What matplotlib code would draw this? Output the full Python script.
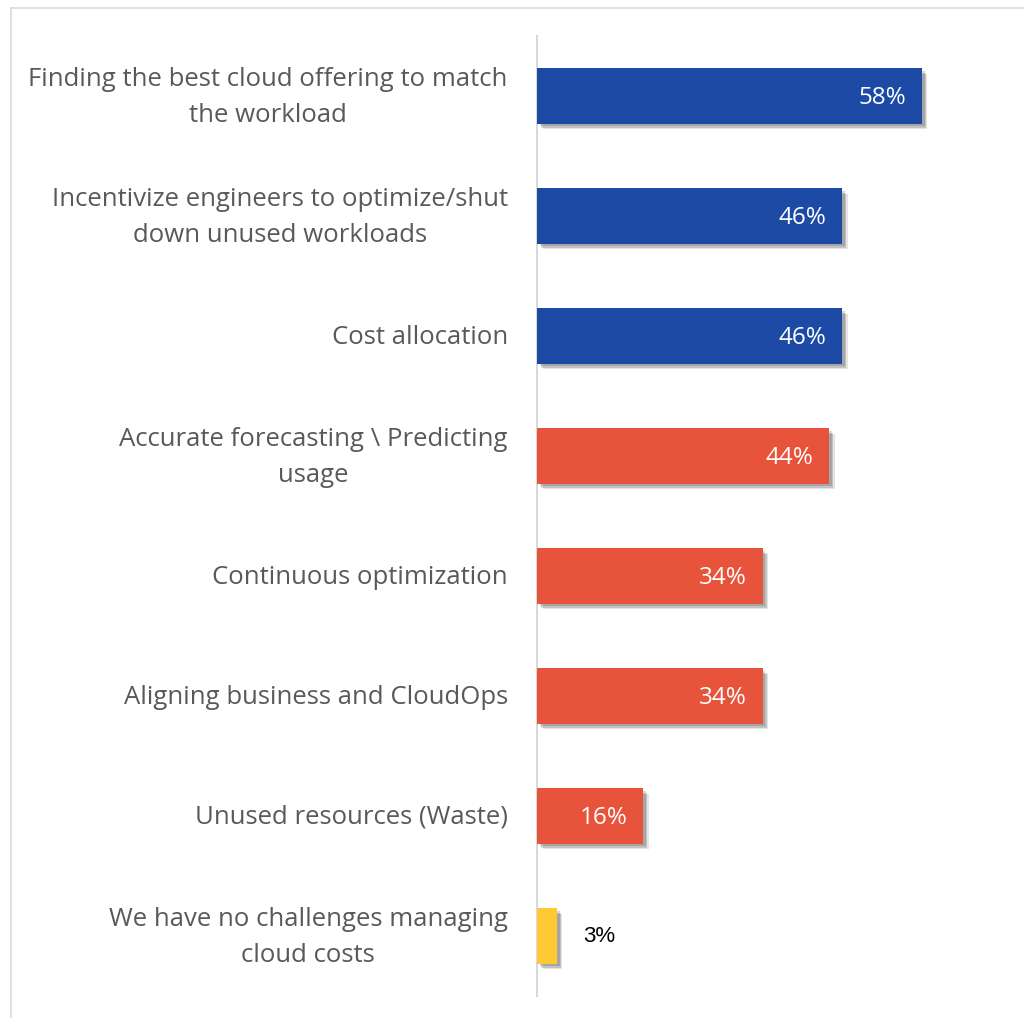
import matplotlib.pyplot as plt
import matplotlib.patheffects as pe
import matplotlib.transforms as mtransforms
from matplotlib.lines import Line2D

categories = [
    "Finding the best cloud offering to match\nthe workload",
    "Incentivize engineers to optimize/shut\ndown unused workloads",
    "Cost allocation",
    "Accurate forecasting \\ Predicting\nusage",
    "Continuous optimization",
    "Aligning business and CloudOps",
    "Unused resources (Waste)",
    "We have no challenges managing\ncloud costs",
]
values = [58, 46, 46, 44, 34, 34, 16, 3]
groups = ["top", "top", "top", "mid", "mid", "mid", "mid", "none"]
group_colors = {"top": "#1C4AA5", "mid": "#E8543B", "none": "#FFC935"}

label_font = "Open Sans"

fig = plt.figure(figsize=(10.24, 10.18), dpi=100)
ax = fig.add_axes([0.5244, 0.0216, 0.4536, 0.943])

# soft drop shadow under each bar
shadow = [
    pe.SimplePatchShadow(offset=(4, -4), shadow_rgbFace="#000000", alpha=0.10),
    pe.SimplePatchShadow(offset=(3, -3), shadow_rgbFace="#000000", alpha=0.15),
    pe.SimplePatchShadow(offset=(2, -2), shadow_rgbFace="#000000", alpha=0.15),
    pe.Normal(),
]

ypos = list(range(len(categories)))
bars = ax.barh(ypos, values, height=0.46,
               color=[group_colors[g] for g in groups], zorder=3)
for b in bars:
    b.set_path_effects(shadow)

for y, v in zip(ypos, values):
    if v > 10:
        ax.text(v - 2.4, y + 0.02, f"{v}%", ha="right", va="center", color="white",
                fontsize=17.5, family=label_font, zorder=4)
    else:
        ax.text(v + 4.0, y, f"{v}%", ha="left", va="center", color="black",
                fontsize=16, family="Liberation Sans", zorder=4)

ax.set_xlim(0, 70)
ax.set_ylim(len(categories) - 0.5, -0.5)
ax.set_yticks(ypos)
ax.set_yticklabels(categories, fontsize=18.5, family=label_font,
                   color="#595959", linespacing=1.6, ha="right")
ax.tick_params(axis="y", length=0, pad=21)
ax.set_xticks([])

# centre each wrapped label and nudge it up a little
for lbl in ax.get_yticklabels():
    lbl.set_multialignment("center")
    shift = 7 if "\n" in lbl.get_text() else 2
    lbl.set_transform(lbl.get_transform() +
                      mtransforms.ScaledTranslation(0, shift / 100, fig.dpi_scale_trans))

for side in ["top", "right", "bottom"]:
    ax.spines[side].set_visible(False)
ax.spines["left"].set_color("#d9d9d9")
ax.spines["left"].set_linewidth(1.5)

# light frame running off the right and bottom edges
fig.add_artist(Line2D([10.5 / 1024, 10.5 / 1024], [0, 1 - 8 / 1018],
                      color="#d9d9d9", lw=1.2))
fig.add_artist(Line2D([10.5 / 1024, 1], [1 - 8 / 1018, 1 - 8 / 1018],
                      color="#d9d9d9", lw=1.2))

fig.savefig("out.png", dpi=100)
